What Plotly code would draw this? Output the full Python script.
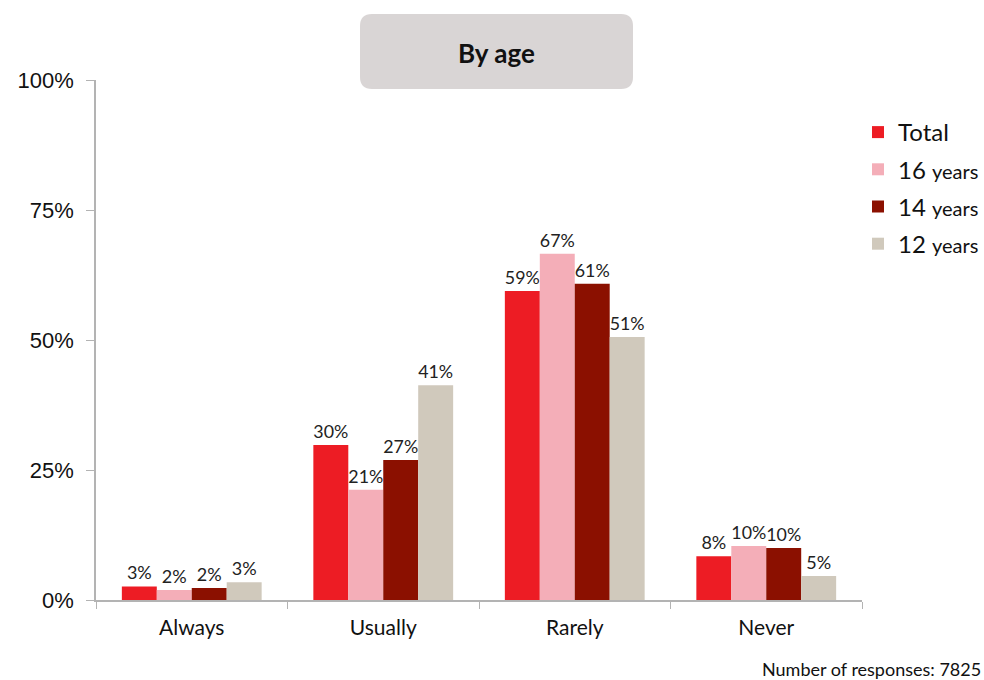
import plotly.graph_objects as go

categories = ['Always', 'Usually', 'Rarely', 'Never']
series_names = ['Total', '16 years', '14 years', '12 years']
total = [2.6, 29.8, 59.4, 8.4]
age_16 = [1.9, 21.2, 66.6, 10.4]
age_14 = [2.3, 26.9, 60.8, 10.0]
age_12 = [3.4, 41.3, 50.6, 4.6]
y_ticks = [0, 25, 50, 75, 100]
y_tick_labels = ['0%', '25%', '50%', '75%', '100%']
colors = ['#ed1c24', '#f4aeb8', '#8b1000', '#d0c9bc']

LEFT, RIGHT, TOP, BOTTOM = 96, 122, 80, 80
W, H = 984, 680
plot_w = W - LEFT - RIGHT
plot_h = H - TOP - BOTTOM


def px_x(x):
    return (x - LEFT) / plot_w


def px_y(y):
    return (H - BOTTOM - y) / plot_h


def legend_name(name):
    if ' ' in name:
        num, word = name.split(' ')
        return f"{num} <span style='font-size:20px'>{word}</span>"
    return name


fig = go.Figure()
for idx, (name, values) in enumerate(zip(series_names, [total, age_16, age_14, age_12])):
    fig.add_trace(go.Bar(
        name=legend_name(name),
        x=categories,
        y=values,
        marker_color=colors[idx],
        marker_line_width=0,
        texttemplate='%{y:.0f}%',
        textposition='outside',
        textfont=dict(family='Lato', size=18, color='#222'),
        cliponaxis=False,
        legendgroup=name,
    ))

# rounded title box
x0, x1 = px_x(360), px_x(633)
y0, y1 = px_y(89), px_y(14)
rx, ry = 12 / plot_w, 12 / plot_h
path = (f"M {x0 + rx} {y1} L {x1 - rx} {y1} Q {x1} {y1} {x1} {y1 - ry} "
        f"L {x1} {y0 + ry} Q {x1} {y0} {x1 - rx} {y0} "
        f"L {x0 + rx} {y0} Q {x0} {y0} {x0} {y0 + ry} "
        f"L {x0} {y1 - ry} Q {x0} {y1} {x0 + rx} {y1} Z")
fig.add_shape(type='path', path=path, xref='paper', yref='paper',
              fillcolor='#d9d5d5', line_width=0, layer='below')

fig.add_annotation(text='<b>By age</b>', x=(x0 + x1) / 2, y=px_y(53),
                   xref='paper', yref='paper', xanchor='center', yanchor='middle',
                   showarrow=False,
                   font=dict(family='Lato', size=26, color='#111'))

fig.add_annotation(text='Number of responses: 7825', x=px_x(983), y=px_y(669),
                   xref='paper', yref='paper', xanchor='right', yanchor='middle',
                   showarrow=False, font=dict(family='Lato', size=18, color='#111'))

fig.update_layout(
    width=W, height=H,
    margin=dict(l=LEFT, r=RIGHT, t=TOP, b=BOTTOM, autoexpand=False),
    paper_bgcolor='white', plot_bgcolor='white',
    barmode='group', bargap=0.27, bargroupgap=0,
    showlegend=True,
    legend=dict(x=px_x(858), y=px_y(110), xanchor='left', yanchor='top',
                font=dict(family='Lato', size=24, color='#111'),
                tracegroupgap=3, traceorder='grouped',
                itemwidth=30),
    xaxis=dict(showline=True, linecolor='#b3b3b3', linewidth=1.5,
               ticks='outside', tickson='boundaries', ticklen=7, tickcolor='#b3b3b3',
               tickfont=dict(family='Lato', size=21, color='#111'),
               ticklabelstandoff=8,
               showgrid=False),
    yaxis=dict(range=[0, 100], tickvals=y_ticks, ticktext=y_tick_labels,
               showline=True, linecolor='#b3b3b3', linewidth=1.5,
               ticks='outside', ticklen=8, tickcolor='#b3b3b3',
               tickfont=dict(family='Liberation Sans, Arial', size=22, color='#111'),
               ticklabelstandoff=8,
               showgrid=False, zeroline=False),
)

# drop the default page margin so the figure sits at the window's corner
fig.write_html('out.html', config={'displayModeBar': False},
               post_script="document.body.style.margin='0';")
